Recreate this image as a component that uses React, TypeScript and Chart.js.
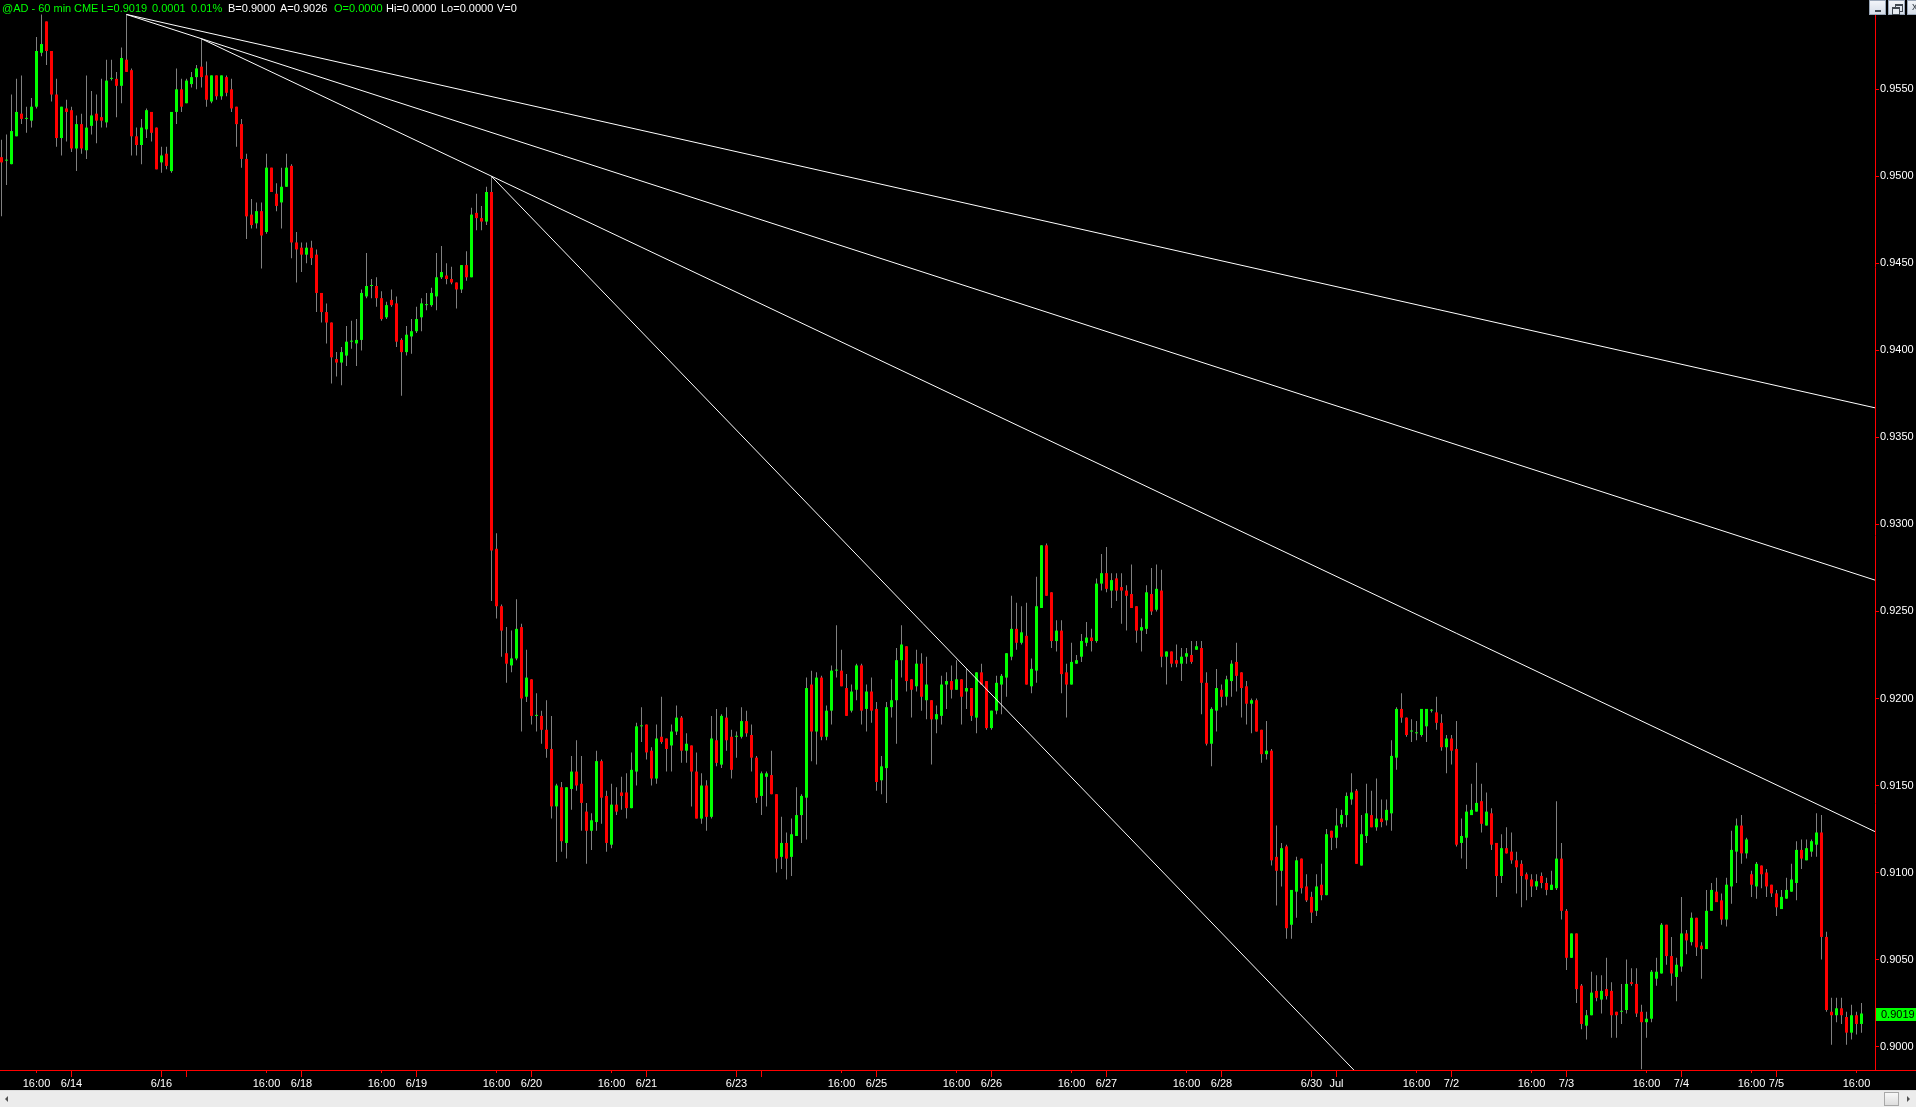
import React, { useEffect, useRef } from 'react';
import { Chart, registerables } from 'chart.js';

Chart.register(...registerables);

// 60-min bars, prices in 1/10000 units (9019 = 0.9019)
const OPEN = [
  9511,9509,9507,9523,9536,9533,9532,9540,9571,9589,
  9572,9547,9522,9539,9538,9516,9530,9515,9529,9536,
  9534,9531,9556,9556,9552,9567,9561,9523,9518,9527,
  9537,9528,9508,9513,9503,9537,9550,9542,9553,9557,
  9563,9558,9543,9558,9546,9557,9550,9540,9530,9510,
  9478,9473,9480,9468,9505,9490,9485,9494,9506,9462,
  9459,9455,9459,9455,9433,9422,9416,9395,9393,9397,
  9405,9404,9406,9431,9437,9437,9430,9419,9429,9427,
  9406,9399,9408,9411,9419,9426,9426,9431,9442,9443,
  9441,9439,9435,9449,9442,9479,9476,9474,9491,9286,
  9253,9226,9219,9223,9241,9201,9211,9190,9190,9182,
  9171,9138,9149,9117,9148,9158,9151,9135,9124,9129,
  9164,9144,9116,9139,9146,9146,9137,9158,9184,9185,
  9170,9154,9178,9177,9173,9181,9189,9170,9173,9158,
  9131,9150,9132,9176,9162,9189,9178,9178,9178,9187,
  9179,9166,9144,9155,9156,9145,9109,9117,9109,9121,
  9133,9143,9208,9181,9212,9178,9193,9216,9216,9206,
  9193,9205,9219,9194,9204,9194,9153,9160,9195,9199,
  9222,9230,9211,9207,9220,9199,9199,9188,9190,9208,
  9210,9205,9211,9204,9206,9189,9215,9210,9183,9193,
  9208,9212,9224,9240,9232,9236,9207,9216,9252,9288,
  9261,9233,9239,9215,9208,9220,9224,9232,9235,9233,
  9266,9272,9262,9269,9264,9262,9260,9253,9239,9240,
  9260,9251,9262,9224,9227,9222,9220,9224,9225,9228,
  9229,9209,9174,9193,9205,9201,9210,9221,9215,9207,
  9197,9199,9182,9168,9170,9109,9101,9115,9070,9089,
  9108,9092,9086,9078,9093,9087,9124,9120,9128,9133,
  9142,9147,9104,9121,9133,9126,9131,9130,9134,9166,
  9194,9189,9181,9180,9179,9184,9193,9192,9186,9172,
  9177,9171,9117,9120,9133,9135,9141,9127,9134,9117,
  9098,9114,9112,9107,9105,9099,9096,9092,9098,9094,
  9090,9091,9108,9078,9051,9065,9035,9012,9018,9032,
  9027,9033,9032,9020,9020,9021,9037,9036,9020,9014,
  9016,9039,9042,9070,9052,9040,9046,9065,9060,9074,
  9058,9056,9078,9089,9084,9073,9092,9112,9127,9111,
  9099,9092,9104,9100,9093,9088,9079,9085,9089,9094,
  9113,9107,9112,9116,9123,9063,9020,9018,9022,9017,
  9008,9018,9013,
];
const HIGH = [
  9521,9524,9547,9556,9558,9540,9545,9580,9593,9589,
  9572,9556,9540,9544,9540,9535,9536,9558,9549,9547,
  9556,9567,9567,9560,9574,9593,9562,9528,9533,9539,
  9537,9528,9517,9517,9537,9562,9556,9556,9560,9564,
  9579,9566,9558,9558,9558,9558,9556,9540,9533,9513,
  9487,9485,9485,9513,9505,9496,9505,9513,9507,9468,
  9462,9462,9463,9458,9433,9427,9416,9399,9402,9414,
  9417,9418,9435,9456,9441,9442,9434,9428,9435,9431,
  9407,9414,9418,9425,9430,9433,9436,9456,9460,9450,
  9448,9439,9449,9457,9482,9490,9483,9494,9500,9295,
  9254,9241,9239,9257,9243,9228,9211,9203,9193,9199,
  9190,9151,9152,9149,9167,9176,9167,9140,9134,9170,
  9165,9147,9151,9149,9155,9157,9169,9186,9195,9185,
  9172,9185,9201,9177,9185,9196,9190,9180,9173,9169,
  9157,9153,9190,9194,9191,9195,9182,9181,9195,9193,
  9185,9167,9158,9158,9170,9145,9132,9123,9131,9149,
  9145,9212,9216,9215,9213,9196,9219,9242,9228,9214,
  9208,9220,9220,9208,9212,9198,9167,9198,9211,9229,
  9242,9230,9211,9228,9226,9224,9199,9196,9213,9215,
  9219,9222,9211,9217,9206,9215,9220,9210,9193,9213,
  9214,9226,9259,9255,9253,9255,9223,9270,9288,9289,
  9261,9245,9245,9220,9232,9225,9237,9244,9240,9269,
  9283,9287,9272,9272,9272,9265,9277,9253,9246,9265,
  9275,9277,9274,9227,9227,9231,9229,9229,9233,9233,
  9233,9215,9195,9217,9208,9213,9222,9232,9215,9210,
  9200,9200,9182,9187,9171,9127,9117,9116,9090,9109,
  9108,9099,9089,9099,9105,9125,9124,9137,9136,9146,
  9157,9148,9133,9151,9147,9154,9142,9142,9176,9195,
  9203,9189,9188,9187,9194,9194,9194,9201,9191,9179,
  9179,9187,9131,9139,9151,9163,9151,9146,9137,9117,
  9122,9126,9123,9112,9107,9100,9099,9099,9100,9097,
  9101,9141,9117,9079,9065,9065,9036,9021,9043,9041,
  9041,9051,9037,9020,9036,9050,9045,9045,9024,9020,
  9044,9051,9071,9070,9063,9051,9086,9067,9077,9074,
  9060,9090,9094,9097,9088,9097,9124,9131,9133,9120,
  9101,9106,9104,9102,9093,9090,9090,9097,9105,9118,
  9119,9119,9119,9134,9133,9066,9028,9028,9028,9020,
  9024,9020,9025,
];
const LOW = [
  9477,9495,9507,9523,9530,9525,9528,9539,9569,9564,
  9543,9517,9512,9520,9514,9503,9513,9510,9524,9519,
  9528,9528,9555,9534,9542,9560,9512,9512,9507,9522,
  9520,9504,9502,9504,9502,9530,9537,9542,9551,9550,
  9551,9540,9542,9544,9544,9546,9537,9517,9505,9464,
  9470,9470,9447,9467,9491,9480,9470,9494,9453,9439,
  9445,9450,9449,9422,9416,9404,9381,9385,9380,9391,
  9401,9391,9400,9430,9430,9425,9417,9418,9425,9402,
  9374,9397,9398,9410,9411,9423,9425,9423,9441,9438,
  9438,9424,9433,9440,9442,9469,9469,9472,9256,9246,
  9224,9209,9215,9222,9181,9198,9185,9181,9174,9166,
  9131,9106,9112,9108,9136,9147,9124,9105,9113,9124,
  9128,9112,9114,9133,9136,9131,9137,9150,9175,9165,
  9150,9151,9174,9158,9158,9179,9163,9163,9138,9131,
  9128,9124,9131,9161,9160,9170,9154,9166,9177,9178,
  9158,9140,9133,9138,9145,9100,9102,9096,9098,9121,
  9117,9119,9164,9162,9176,9176,9185,9212,9207,9190,
  9192,9199,9185,9181,9186,9147,9145,9140,9189,9174,
  9212,9204,9189,9204,9193,9188,9162,9180,9185,9194,
  9200,9205,9185,9194,9187,9180,9208,9182,9182,9191,
  9191,9201,9222,9228,9231,9208,9203,9209,9252,9259,
  9229,9227,9203,9189,9208,9220,9221,9230,9227,9232,
  9262,9261,9252,9256,9243,9239,9252,9232,9227,9237,
  9248,9250,9218,9208,9218,9218,9210,9220,9220,9228,
  9191,9173,9161,9181,9195,9196,9201,9204,9189,9185,
  9180,9181,9163,9165,9104,9081,9092,9062,9062,9074,
  9088,9083,9071,9075,9084,9087,9113,9114,9126,9126,
  9139,9105,9104,9117,9126,9124,9126,9127,9124,9159,
  9186,9178,9175,9176,9178,9175,9192,9182,9170,9157,
  9162,9115,9108,9102,9133,9135,9123,9127,9113,9086,
  9094,9111,9105,9088,9080,9084,9086,9090,9091,9087,
  9090,9090,9073,9044,9051,9025,9010,9004,9018,9026,
  9019,9027,9005,9005,9013,9019,9035,9017,8987,9005,
  9014,9035,9042,9047,9035,9026,9043,9053,9058,9052,
  9039,9056,9078,9083,9070,9069,9082,9094,9105,9108,
  9086,9085,9091,9086,9086,9075,9079,9085,9089,9084,
  9102,9107,9109,9109,9050,9020,9001,9014,9013,9001,
  9004,9007,9008,
];
const CLOSE = [
  9508,9509,9526,9537,9533,9533,9540,9572,9576,9572,
  9547,9522,9540,9537,9516,9530,9516,9528,9535,9532,
  9532,9555,9556,9552,9568,9560,9523,9518,9528,9538,
  9525,9504,9512,9506,9537,9550,9540,9555,9557,9562,
  9557,9544,9558,9546,9558,9548,9539,9530,9510,9477,
  9472,9480,9466,9505,9491,9483,9494,9505,9462,9458,
  9455,9459,9453,9433,9422,9416,9396,9393,9399,9405,
  9405,9406,9433,9437,9437,9430,9418,9426,9426,9405,
  9399,9409,9411,9418,9427,9426,9433,9442,9445,9441,
  9439,9435,9449,9442,9478,9476,9474,9491,9285,9253,
  9239,9220,9223,9240,9200,9212,9190,9190,9182,9171,
  9138,9150,9118,9149,9158,9150,9140,9124,9130,9164,
  9143,9117,9139,9135,9144,9137,9159,9184,9184,9169,
  9154,9177,9175,9171,9181,9189,9170,9174,9158,9131,
  9150,9132,9177,9163,9190,9176,9159,9178,9187,9180,
  9166,9143,9157,9157,9145,9108,9117,9108,9122,9133,
  9144,9206,9181,9212,9178,9193,9216,9216,9207,9190,
  9204,9219,9193,9204,9193,9152,9161,9195,9199,9222,
  9231,9210,9205,9220,9201,9208,9188,9191,9208,9210,
  9205,9211,9201,9206,9190,9215,9208,9183,9193,9209,
  9213,9226,9240,9232,9238,9208,9217,9253,9288,9259,
  9233,9239,9214,9208,9221,9222,9233,9235,9233,9266,
  9272,9263,9268,9262,9262,9259,9252,9239,9241,9261,
  9250,9263,9224,9227,9220,9220,9224,9226,9221,9230,
  9209,9174,9194,9206,9201,9211,9220,9213,9206,9197,
  9199,9181,9168,9170,9107,9101,9114,9068,9090,9107,
  9091,9084,9077,9092,9087,9122,9120,9127,9133,9144,
  9146,9105,9122,9134,9126,9131,9129,9136,9167,9194,
  9189,9179,9181,9180,9194,9194,9193,9186,9172,9177,
  9170,9116,9121,9135,9136,9140,9128,9135,9116,9098,
  9114,9111,9107,9103,9098,9096,9092,9095,9094,9090,
  9093,9108,9078,9051,9065,9033,9013,9018,9031,9028,
  9032,9029,9018,9018,9020,9036,9036,9019,9014,9016,
  9043,9043,9070,9052,9042,9047,9065,9061,9074,9057,
  9056,9078,9090,9083,9073,9093,9113,9127,9111,9119,
  9093,9105,9099,9092,9088,9080,9086,9090,9096,9113,
  9108,9114,9118,9123,9063,9021,9018,9022,9018,9008,
  9018,9013,9019,
];
const PRICE_UNIT = 10000;

// time axis: bar index of each tick and its label
const X_TICK_BARS = [7,14,32,37,53,60,76,83,99,106,122,129,147,152,168,175,191,198,214,221,237,244,262,267,283,290,306,313,329,336,350,355,371];
const X_TICK_LABELS = ['16:00','6/14','6/16','','16:00','6/18','16:00','6/19','16:00','6/20','16:00','6/21','6/23','','16:00','6/25','16:00','6/26','16:00','6/27','16:00','6/28','6/30','Jul','16:00','7/2','16:00','7/3','16:00','7/4','16:00','7/5','16:00'];
const Y_TICKS = [0.9, 0.905, 0.91, 0.915, 0.92, 0.925, 0.93, 0.935, 0.94, 0.945, 0.95, 0.955];

// trend lines (bar index, price)
const TREND_START_BAR = [25, 25, 40, 98];
const TREND_START_PRICE = [0.9593, 0.9593, 0.9579, 0.95];
const TREND_END_BAR = [374.7, 374.7, 374.7, 290];
const TREND_END_PRICE = [0.9367, 0.9268, 0.91235, 0.89284];

const HEADER_TEXT = ['@AD - 60 min', 'CME', 'L=0.9019', '0.0001', '0.01%', 'B=0.9000', 'A=0.9026', 'O=0.0000', 'Hi=0.0000', 'Lo=0.0000', 'V=0'];
const HEADER_GREEN = [true, true, true, true, true, false, false, true, false, false, false];

const UP = '#00ff00';
const DOWN = '#ff0000';
const WICK = '#808080';
const AXIS = '#ff0000';
const FONT = "'Liberation Sans', Arial, sans-serif";

const X_MIN = -0.3;
const X_MAX = 374.7;
const Y_MIN = 0.898654;
const Y_MAX = 0.960131;

const axisDecor = {
  id: 'axisDecor',
  afterDraw(chart: any) {
    const { ctx, chartArea } = chart;
    const xs = chart.scales.x;
    const ys = chart.scales.y;
    const yAxis = Math.round(chartArea.bottom) + 0.5;
    ctx.save();
    ctx.strokeStyle = AXIS;
    ctx.lineWidth = 1;
    ctx.beginPath();
    ctx.moveTo(chartArea.right, yAxis);
    ctx.lineTo(chart.width, yAxis);
    X_TICK_BARS.forEach((b, k) => {
      const px = Math.floor(xs.getPixelForValue(b)) + 0.5;
      const len = X_TICK_LABELS[k] === '16:00' ? 2 : 6;
      ctx.moveTo(px, yAxis + 0.5);
      ctx.lineTo(px, yAxis + 0.5 + len);
    });
    ctx.stroke();
    const last = CLOSE[CLOSE.length - 1] / PRICE_UNIT;
    const py = ys.getPixelForValue(last);
    ctx.fillStyle = UP;
    ctx.fillRect(Math.round(chartArea.right) + 1, Math.round(py) - 6, 45, 13);
    ctx.fillStyle = '#000000';
    ctx.font = `11px ${FONT}`;
    ctx.textBaseline = 'middle';
    ctx.textAlign = 'left';
    ctx.fillText(last.toFixed(4), Math.round(chartArea.right) + 6, Math.round(py) + 0.5);
    ctx.restore();
  },
};

export default function App() {
  const ref = useRef<HTMLCanvasElement>(null);

  useEffect(() => {
    const canvas = ref.current;
    if (!canvas) return;
    const n = Math.min(OPEN.length, HIGH.length, LOW.length, CLOSE.length);
    const idx = Array.from({ length: n }, (_, i) => i);
    const wick = idx.map((i) => ({ x: i, y: [LOW[i] / PRICE_UNIT, HIGH[i] / PRICE_UNIT] }));
    const body = idx.map((i) => ({ x: i, y: [OPEN[i] / PRICE_UNIT, CLOSE[i] / PRICE_UNIT] }));
    const bodyColors = idx.map((i) => (CLOSE[i] >= OPEN[i] ? UP : DOWN));
    const lines = TREND_START_BAR.map((b, k) => ({
      type: 'line',
      data: [
        { x: b, y: TREND_START_PRICE[k] },
        { x: TREND_END_BAR[k], y: TREND_END_PRICE[k] },
      ],
      borderColor: '#ffffff',
      borderWidth: 1,
      pointRadius: 0,
      fill: false,
      tension: 0,
      order: 0,
    }));

    const chart = new Chart(canvas, {
      type: 'bar',
      data: {
        datasets: [
          {
            type: 'bar',
            data: wick,
            backgroundColor: WICK,
            grouped: false,
            barThickness: 1,
            maxBarThickness: 1,
            borderWidth: 0,
            inflateAmount: 0,
            order: 2,
          },
          {
            type: 'bar',
            data: body,
            backgroundColor: bodyColors,
            grouped: false,
            barThickness: 3,
            maxBarThickness: 3,
            minBarLength: 1,
            borderWidth: 0,
            inflateAmount: 0,
            order: 1,
          },
          ...lines,
        ] as any,
      },
      options: {
        responsive: false,
        animation: false,
        devicePixelRatio: 1,
        events: [],
        layout: { padding: 0 },
        plugins: {
          legend: { display: false },
          tooltip: { enabled: false },
        },
        scales: {
          x: {
            type: 'linear',
            position: 'bottom',
            min: X_MIN,
            max: X_MAX,
            offset: false,
            grid: { display: false, drawTicks: false, offset: false },
            border: { display: true, color: AXIS, width: 1 },
            ticks: {
              autoSkip: false,
              maxRotation: 0,
              minRotation: 0,
              padding: 7,
              color: '#ffffff',
              font: { family: FONT, size: 11 },
              callback: (v: any) => {
                const k = X_TICK_BARS.indexOf(Number(v));
                return k >= 0 ? X_TICK_LABELS[k] : '';
              },
            },
            afterBuildTicks: (s: any) => {
              s.ticks = X_TICK_BARS.map((v) => ({ value: v }));
            },
            afterFit: (s: any) => {
              s.height = 37;
              s.paddingLeft = 0;
              s.paddingRight = 0;
            },
          },
          y: {
            type: 'linear',
            position: 'right',
            min: Y_MIN,
            max: Y_MAX,
            beginAtZero: false,
            grid: {
              display: true,
              drawOnChartArea: false,
              drawTicks: true,
              tickLength: 4,
              color: AXIS,
              tickColor: AXIS,
            },
            border: { display: true, color: AXIS, width: 1 },
            ticks: {
              autoSkip: false,
              padding: 1,
              color: '#ffffff',
              font: { family: FONT, size: 11 },
              callback: (v: any) => Number(v).toFixed(4),
            },
            afterBuildTicks: (s: any) => {
              s.ticks = Y_TICKS.map((v) => ({ value: v }));
            },
            afterFit: (s: any) => {
              s.width = 41;
              s.paddingTop = 0;
              s.paddingBottom = 0;
            },
          },
        },
      } as any,
      plugins: [axisDecor],
    });
    return () => chart.destroy();
  }, []);

  const headerX = [2, 74, 101, 152, 191, 228, 280, 334, 386, 441, 497];

  return (
    <div
      style={{
        position: 'fixed',
        left: 0,
        top: 0,
        width: 1916,
        height: 1107,
        background: '#000000',
        overflow: 'hidden',
      }}
    >
      <canvas ref={ref} width={1916} height={1107} style={{ display: 'block', width: 1916, height: 1107 }} />
      {HEADER_TEXT.map((t, k) => (
        <span
          key={k}
          style={{
            position: 'absolute',
            left: headerX[k],
            top: 2,
            fontFamily: FONT,
            fontSize: 11,
            lineHeight: '13px',
            whiteSpace: 'pre',
            color: HEADER_GREEN[k] ? UP : '#ffffff',
          }}
        >
          {t}
        </span>
      ))}
      {[1869, 1888, 1907].map((x, k) => (
        <div
          key={k}
          style={{
            position: 'absolute',
            left: x,
            top: 0,
            width: 17,
            height: 15,
            background: 'linear-gradient(#f2f5f9, #d5dde8)',
            border: '1px solid #9aa7b8',
            boxSizing: 'border-box',
          }}
        >
          {k === 0 && (
            <div style={{ position: 'absolute', left: 5, top: 9, width: 6, height: 2, background: '#404850' }} />
          )}
          {k === 1 && (
            <>
              <div style={{ position: 'absolute', left: 6, top: 3, width: 6, height: 5, border: '1px solid #404850', borderTopWidth: 2 }} />
              <div style={{ position: 'absolute', left: 3, top: 6, width: 6, height: 5, border: '1px solid #404850', borderTopWidth: 2, background: '#e6ebf1' }} />
            </>
          )}
          {k === 2 && (
            <div style={{ position: 'absolute', left: 4, top: -1, fontFamily: FONT, fontSize: 11, color: '#404850' }}>x</div>
          )}
        </div>
      ))}
      <div
        style={{
          position: 'absolute',
          left: 0,
          top: 1090,
          width: 1916,
          height: 17,
          background: '#ececec',
          borderTop: '1px solid #dcdcdc',
          boxSizing: 'border-box',
        }}
      >
        <div
          style={{
            position: 'absolute',
            left: 5,
            top: 5,
            width: 0,
            height: 0,
            borderTop: '3px solid transparent',
            borderBottom: '3px solid transparent',
            borderRight: '3px solid #505050',
          }}
        />
        <div
          style={{
            position: 'absolute',
            left: 1884,
            top: 1,
            width: 15,
            height: 14,
            background: 'linear-gradient(#f8f8f8, #dedede)',
            border: '1px solid #a8a8a8',
            boxSizing: 'border-box',
          }}
        />
        <div
          style={{
            position: 'absolute',
            left: 1907,
            top: 5,
            width: 0,
            height: 0,
            borderTop: '3px solid transparent',
            borderBottom: '3px solid transparent',
            borderLeft: '3px solid #505050',
          }}
        />
      </div>
    </div>
  );
}
